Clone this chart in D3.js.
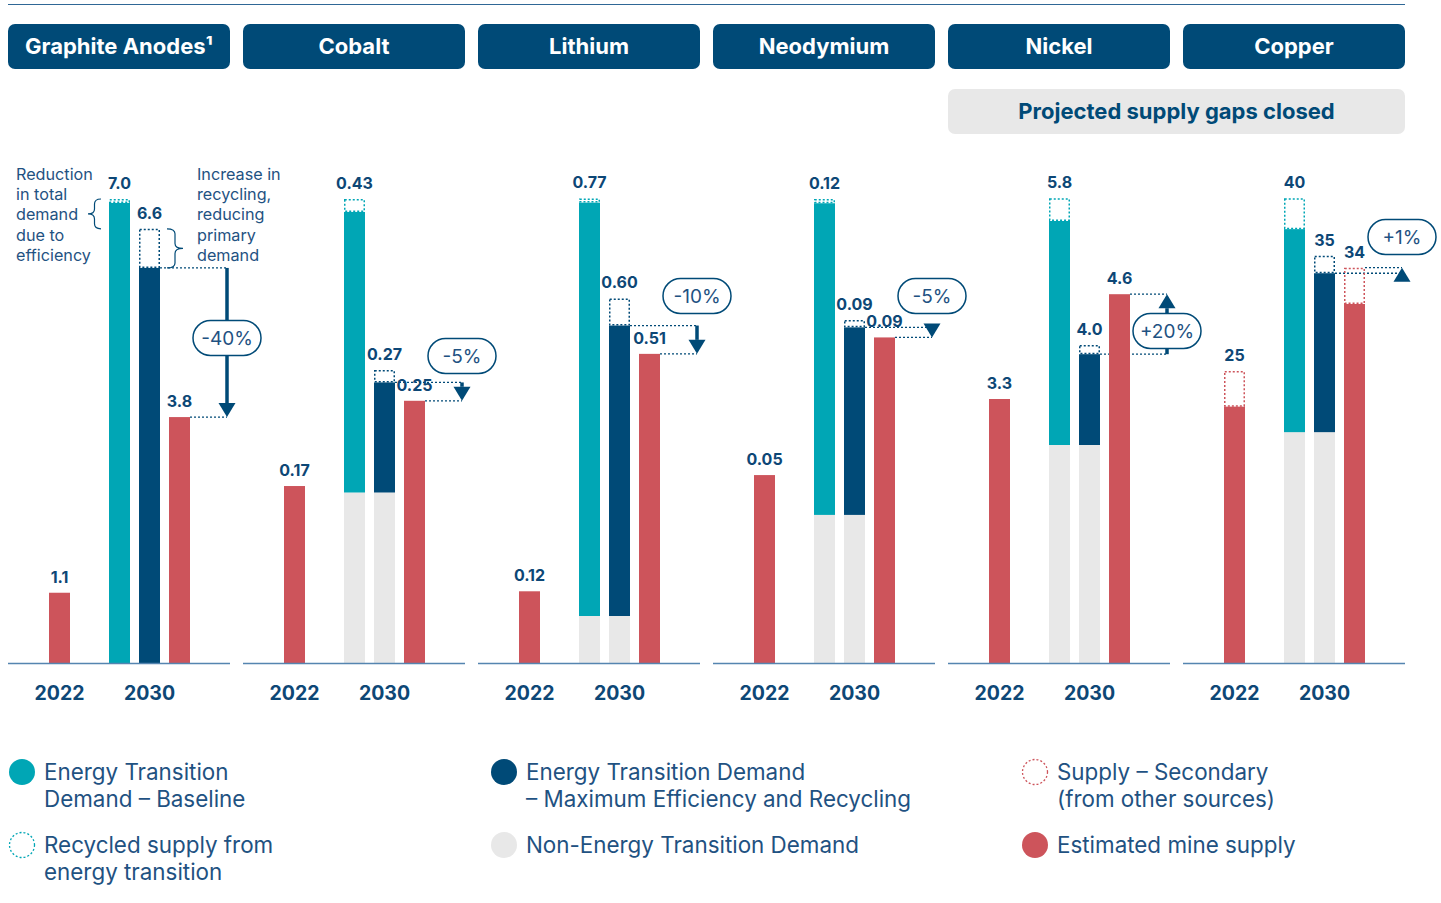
<!DOCTYPE html>
<html lang="en">
<head>
  <meta charset="UTF-8">
  <title>Critical minerals supply and demand</title>
  <script src="https://d3js.org/d3.v7.min.js"></script>
  <style>
    body {
      margin: 0;
      background: white;
      font-family: Inter, "Noto Sans", Arial, sans-serif;
    }
    svg { display: block; }
    .val { font-size: 16px; font-weight: 700; fill: #0d4776; text-anchor: middle; }
    .year { font-size: 19.5px; font-weight: 700; fill: #0d4776; text-anchor: middle; }
    .note { font-size: 16.2px; fill: #1f5282; }
    .legend { font-size: 22.4px; fill: #1f5282; }
  </style>
</head>
<body>
<svg width="1441" height="903"></svg>
<script>
  // minerals and values (per panel units)
  const minerals = ["Graphite Anodes¹", "Cobalt", "Lithium", "Neodymium", "Nickel", "Copper"];
  const yMax = [7.0, 0.43, 0.77, 0.12, 5.8, 40];

  const mine2022 = [1.06, 0.164, 0.119, 0.0486, 3.3, 22.1];
  const secondary2022 = [0, 0, 0, 0, 0, 3.07];
  const nonEnergy2030 = [0, 0.158, 0.078, 0.0383, 2.725, 19.9];
  const etBaseline = [6.94, 0.26, 0.686, 0.0806, 2.8, 17.5];
  const recycledBaseline = [0.06, 0.012, 0.007, 0.0011, 0.285, 2.66];
  const etMaxEff = [5.96, 0.102, 0.482, 0.0485, 1.135, 13.7];
  const recycledMaxEff = [0.59, 0.0116, 0.045, 0.0019, 0.115, 1.5];
  const mine2030 = [3.71, 0.243, 0.513, 0.0842, 4.61, 30.95];
  const secondary2030 = [0, 0, 0, 0, 0, 3.13];

  const label2022 = ["1.1", "0.17", "0.12", "0.05", "3.3", "25"];
  const labelBaseline = ["7.0", "0.43", "0.77", "0.12", "5.8", "40"];
  const labelMaxEff = ["6.6", "0.27", "0.60", "0.09", "4.0", "35"];
  const label2030 = ["3.8", "0.25", "0.51", "0.09", "4.6", "34"];
  const changes = ["-40%", "-5%", "-10%", "-5%", "+20%", "+1%"];

  const years = ["2022", "2030"];

  // layout
  const pillY = [338, 356, 296, 296, 331, 237];
  const panelW = 222, panelGap = 13, left = 8;
  const baseY = 663, topY = 199, barW = 21;

  const C = {
    teal: "#00a6b5",
    navy: "#004a77",
    red: "#cd545b",
    grey: "#e8e8e8",
    text: "#0d4776",
    axis: "#5585b0"
  };

  const svg = d3.select("svg");

  // top rule
  svg.append("line")
    .attr("x1", left).attr("x2", 1405)
    .attr("y1", 4.5).attr("y2", 4.5)
    .attr("stroke", "#2f6796").attr("stroke-width", 1.2);

  const panelX = d3.scaleBand()
    .domain(minerals)
    .range([left, left + 6 * panelW + 5 * panelGap])
    .paddingInner(panelGap / (panelW + panelGap));

  const slot = d3.scalePoint()
    .domain(["2022", "gap", "base", "max", "mine"])
    .range([51.5, 171.5]);

  // projected supply gaps box
  const gapBox = svg.append("g");
  gapBox.append("rect")
    .attr("x", panelX("Nickel")).attr("y", 89)
    .attr("width", panelX("Copper") + panelX.bandwidth() - panelX("Nickel"))
    .attr("height", 45).attr("rx", 7)
    .attr("fill", "#e8e8e8");
  gapBox.append("text")
    .attr("x", (panelX("Nickel") + panelX("Copper") + panelX.bandwidth()) / 2)
    .attr("y", 118.5)
    .attr("text-anchor", "middle")
    .attr("font-size", 22).attr("font-weight", 700)
    .attr("fill", C.navy)
    .text("Projected supply gaps closed");

  function brace(x, y1, y2, d) {
    const m = (y1 + y2) / 2, h = d / 2, r = 5;
    return `M${x},${y1} Q${x + h},${y1} ${x + h},${y1 + r}` +
      ` L${x + h},${m - r} Q${x + h},${m} ${x + d},${m}` +
      ` Q${x + h},${m} ${x + h},${m + r}` +
      ` L${x + h},${y2 - r} Q${x + h},${y2} ${x},${y2}`;
  }

  minerals.forEach((name, i) => {
    const g = svg.append("g").attr("transform", `translate(${panelX(name)},0)`);
    const y = d3.scaleLinear().domain([0, yMax[i]]).range([baseY, topY]);

    // header
    g.append("rect")
      .attr("x", 0).attr("y", 24)
      .attr("width", panelX.bandwidth()).attr("height", 45)
      .attr("rx", 7).attr("fill", C.navy);
    g.append("text")
      .attr("x", panelX.bandwidth() / 2).attr("y", 54)
      .attr("text-anchor", "middle")
      .attr("font-size", 22).attr("font-weight", 700)
      .attr("fill", "white")
      .text(name);

    const bars = [
      { key: "2022", segs: [[0, mine2022[i], C.red]],
        dash: [mine2022[i], mine2022[i] + secondary2022[i], C.red], label: label2022[i] },
      { key: "base", segs: [[0, nonEnergy2030[i], C.grey], [nonEnergy2030[i], nonEnergy2030[i] + etBaseline[i], C.teal]],
        dash: [nonEnergy2030[i] + etBaseline[i], nonEnergy2030[i] + etBaseline[i] + recycledBaseline[i], C.teal], label: labelBaseline[i] },
      { key: "max", segs: [[0, nonEnergy2030[i], C.grey], [nonEnergy2030[i], nonEnergy2030[i] + etMaxEff[i], C.navy]],
        dash: [nonEnergy2030[i] + etMaxEff[i], nonEnergy2030[i] + etMaxEff[i] + recycledMaxEff[i], C.navy], label: labelMaxEff[i] },
      { key: "mine", segs: [[0, mine2030[i], C.red]],
        dash: [mine2030[i], mine2030[i] + secondary2030[i], C.red], label: label2030[i] }
    ];

    // change arrow (dotted guides first so bars sit on top)
    const xA = 219;
    const yFrom = y(nonEnergy2030[i] + etMaxEff[i]);
    const yTo = y(mine2030[i] + secondary2030[i]);
    const dotted = [
      [slot("max") + barW / 2, yFrom],
      [slot("mine") + barW / 2, yTo]
    ];
    g.selectAll(".guide").data(dotted).join("line")
      .attr("class", "guide")
      .attr("x1", d => d[0]).attr("x2", xA)
      .attr("y1", d => d[1]).attr("y2", d => d[1])
      .attr("stroke", C.navy).attr("stroke-width", 1.3)
      .attr("stroke-dasharray", "2,2");

    const dir = yTo > yFrom ? 1 : -1;
    const headH = 14, headW = 8.5;
    const yBase = yTo - dir * headH;
    if ((yBase - yFrom) * dir > 0) {
      g.append("line")
        .attr("x1", xA).attr("x2", xA)
        .attr("y1", yFrom).attr("y2", yBase)
        .attr("stroke", C.navy).attr("stroke-width", 3.5);
    }
    g.append("path")
      .attr("d", `M${xA - headW},${yBase} L${xA + headW},${yBase} L${xA},${yTo}Z`)
      .attr("fill", C.navy);

    // bars
    bars.forEach(b => {
      const x0 = slot(b.key) - barW / 2;
      b.segs.filter(s => s[1] > s[0]).forEach(s => {
        g.append("rect")
          .attr("x", x0).attr("width", barW)
          .attr("y", y(s[1])).attr("height", y(s[0]) - y(s[1]))
          .attr("fill", s[2]);
      });
      if (b.dash[1] > b.dash[0]) {
        g.append("rect")
          .attr("x", x0 + 0.75).attr("width", barW - 1.5)
          .attr("y", y(b.dash[1]) + 0.75)
          .attr("height", Math.max(0, y(b.dash[0]) - y(b.dash[1]) - 1.5))
          .attr("fill", "none")
          .attr("stroke", b.dash[2]).attr("stroke-width", 1.5)
          .attr("stroke-dasharray", "2,2");
      }
      const top = y(Math.max(b.dash[1], b.segs[b.segs.length - 1][1]));
      g.append("text").attr("class", "val")
        .attr("x", slot(b.key)).attr("y", top - 10)
        .text(b.label);
    });

    // pill
    g.append("rect")
      .attr("x", xA - 34).attr("y", pillY[i] - 17.5)
      .attr("width", 68).attr("height", 35).attr("rx", 17.5)
      .attr("fill", "white").attr("stroke", C.navy).attr("stroke-width", 1.5);
    g.append("text")
      .attr("x", xA).attr("y", pillY[i] + 6.5)
      .attr("text-anchor", "middle")
      .attr("font-size", 19).attr("fill", "#1f5282")
      .text(changes[i]);

    // axis
    g.append("line")
      .attr("x1", 0).attr("x2", panelX.bandwidth())
      .attr("y1", baseY + 0.5).attr("y2", baseY + 0.5)
      .attr("stroke", C.axis).attr("stroke-width", 1.5);
    g.selectAll(".year").data(years).join("text")
      .attr("class", "year")
      .attr("x", d => d === "2022" ? slot("2022") : slot("max"))
      .attr("y", 700)
      .text(d => d);

    // graphite annotations
    if (i === 0) {
      const tealTop = y(etBaseline[i] + recycledBaseline[i]);
      const navyTop = y(etMaxEff[i] + recycledMaxEff[i]);
      const navySolid = y(etMaxEff[i]);
      g.append("path")
        .attr("d", brace(93, tealTop, navyTop, -13))
        .attr("fill", "none").attr("stroke", C.navy).attr("stroke-width", 1.2);
      g.append("path")
        .attr("d", brace(159, navyTop, navySolid, 16))
        .attr("fill", "none").attr("stroke", C.navy).attr("stroke-width", 1.2);
      const leftNote = ["Reduction", "in total", "demand", "due to", "efficiency"];
      const rightNote = ["Increase in", "recycling,", "reducing", "primary", "demand"];
      [[8, leftNote], [189, rightNote]].forEach(([nx, lines]) => {
        g.append("text").attr("class", "note")
          .selectAll("tspan").data(lines).join("tspan")
          .attr("x", nx).attr("y", (d, k) => 180 + k * 20.2)
          .text(d => d);
      });
    }
  });

  // legend
  const legendItems = [
    { x: 22, y: 772, lines: ["Energy Transition", "Demand – Baseline"], fill: C.teal },
    { x: 22, y: 845, lines: ["Recycled supply from", "energy transition"], stroke: C.teal },
    { x: 504, y: 772, lines: ["Energy Transition Demand", "– Maximum Efficiency and Recycling"], fill: C.navy },
    { x: 504, y: 845, lines: ["Non-Energy Transition Demand"], fill: C.grey },
    { x: 1035, y: 772, lines: ["Supply – Secondary", "(from other sources)"], stroke: C.red },
    { x: 1035, y: 845, lines: ["Estimated mine supply"], fill: C.red }
  ];
  const lg = svg.append("g").selectAll("g").data(legendItems).join("g")
    .attr("transform", d => `translate(${d.x},${d.y})`);
  lg.append("circle")
    .attr("r", d => d.fill ? 13 : 12.5)
    .attr("fill", d => d.fill || "none")
    .attr("stroke", d => d.stroke || "none")
    .attr("stroke-width", 1.3)
    .attr("stroke-dasharray", "2,2");
  lg.append("text").attr("class", "legend")
    .selectAll("tspan").data(d => d.lines).join("tspan")
    .attr("x", 22).attr("y", (d, k) => 8 + k * 27)
    .text(d => d);
</script>
</body>
</html>
